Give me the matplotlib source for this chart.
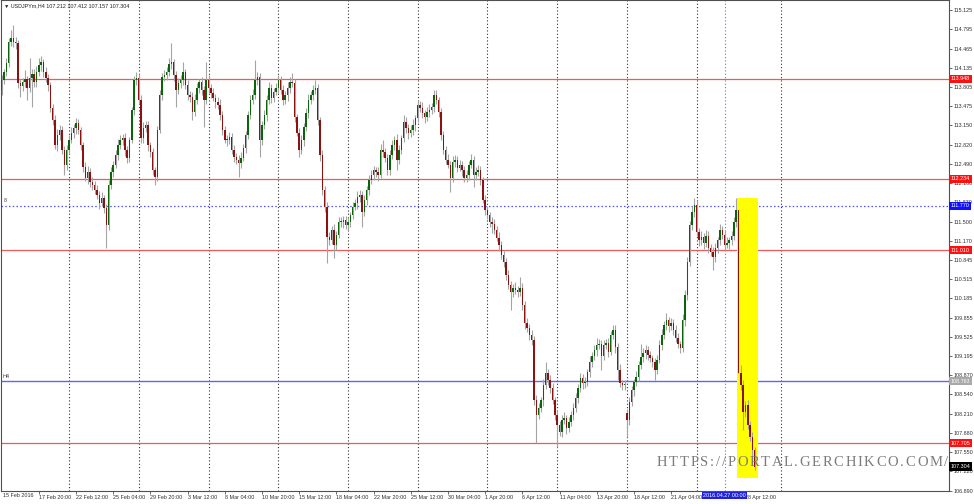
import numpy as np
import matplotlib.pyplot as plt
from matplotlib.patches import Rectangle
from matplotlib.transforms import blended_transform_factory

# USDJPYm H4, 15 Feb 2016 .. 29 Apr 2016, closes
close = [
    113.75, 113.93, 114.06, 114.22, 114.58, 114.65, 114.58, 114.56, 113.87, 113.82,
    113.89, 113.94, 113.79, 113.96, 114.03, 113.89, 114.06, 114.18, 114.23, 114.06,
    113.96, 113.84, 113.45, 113.24, 112.81, 112.98, 113.07, 112.73, 112.47, 112.73,
    112.90, 113.02, 113.10, 113.19, 113.07, 112.81, 112.44, 112.25, 112.35, 112.18,
    112.13, 112.04, 111.96, 111.82, 111.90, 111.73, 111.44, 112.13, 112.35, 112.47,
    112.64, 112.81, 112.90, 112.93, 112.73, 112.59, 112.90, 113.41, 113.93, 113.96,
    113.58, 112.93, 113.10, 113.15, 112.81, 112.69, 112.38, 112.26, 113.07, 113.67,
    113.98, 114.01, 114.06, 114.20, 114.23, 114.01, 113.75, 113.87, 113.93, 114.06,
    113.84, 113.67, 113.63, 113.38, 113.58, 113.79, 113.89, 113.75, 113.58, 113.93,
    113.79, 113.70, 113.62, 113.55, 113.50, 113.33, 113.07, 112.90, 112.90, 112.95,
    112.73, 112.61, 112.56, 112.50, 112.59, 112.76, 112.98, 113.33, 113.58, 113.67,
    113.93, 113.98, 112.90, 113.15, 113.33, 113.58, 113.79, 113.62, 113.72, 113.79,
    113.93, 113.75, 113.58, 113.67, 113.79, 113.89, 113.87, 113.29, 113.02, 112.73,
    112.90, 113.12, 113.36, 113.58, 113.67, 113.75, 113.79, 113.24, 112.64, 112.04,
    111.75, 111.24, 111.18, 111.36, 111.10, 111.27, 111.49, 111.49, 111.53, 111.44,
    111.49, 111.61, 111.75, 111.82, 111.92, 111.96, 111.66, 111.87, 112.04, 112.21,
    112.30, 112.38, 112.35, 112.30, 112.73, 112.69, 112.59, 112.38, 112.64, 112.81,
    112.90, 112.56, 112.73, 112.93, 113.21, 113.10, 113.02, 113.07, 113.15, 113.27,
    113.50, 113.45, 113.36, 113.29, 113.38, 113.41, 113.46, 113.67, 113.58, 113.38,
    112.98, 112.73, 112.56, 112.47, 112.25, 112.52, 112.56, 112.42, 112.47, 112.38,
    112.25, 112.30, 112.47, 112.56, 112.30, 112.35, 112.38, 112.21, 111.87, 111.70,
    111.61, 111.49, 111.46, 111.36, 111.22, 111.10, 110.93, 110.81, 110.58, 110.41,
    110.29, 110.36, 110.33, 110.29, 110.36, 110.07, 109.76, 109.68, 109.56, 109.47,
    108.44, 108.19, 108.31, 108.44, 108.70, 108.91, 108.79, 108.65, 108.44, 108.19,
    108.02, 107.90, 108.10, 108.13, 107.96, 108.07, 108.19, 108.31, 108.48, 108.65,
    108.82, 108.73, 108.75, 108.92, 109.09, 109.20, 109.30, 109.39, 109.40, 109.20,
    109.39, 109.42, 109.27, 109.56, 109.64, 109.35, 108.96, 108.73, 108.70, 108.70,
    108.10, 108.41, 108.61, 108.75, 108.84, 109.04, 109.18, 109.25, 109.30, 109.21,
    109.16, 109.09, 108.96, 109.13, 109.39, 109.56, 109.73, 109.81, 109.71, 109.76,
    109.64, 109.51, 109.40, 109.33, 109.81, 110.24, 110.81, 111.44, 111.66, 111.78,
    111.32, 111.18, 111.24, 111.13, 111.25, 111.05, 110.98, 110.89, 111.05, 111.18,
    111.36, 111.27, 111.10, 111.13, 111.18, 111.25, 111.49, 111.70, 108.91, 108.70,
    108.24, 108.36, 108.02, 107.81, 107.59, 107.30,
]

# upper / lower shadows in pips (0.01)
wick_up = [
    10, 8, 6, 8, 6, 14, 22, 9, 5, 8,
    7, 16, 6, 35, 9, 8, 10, 12, 10, 6,
    8, 7, 5, 6, 8, 10, 9, 6, 7, 9,
    8, 10, 7, 8, 6, 5, 6, 8, 10, 7,
    9, 6, 8, 7, 10, 6, 7, 8, 9, 7,
    8, 10, 9, 7, 8, 6, 5, 6, 7, 10,
    6, 9, 10, 7, 8, 6, 7, 5, 6, 8,
    7, 9, 8, 10, 33, 6, 7, 9, 8, 17,
    6, 8, 7, 9, 10, 8, 6, 9, 7, 30,
    8, 6, 9, 7, 8, 10, 6, 7, 9, 8,
    7, 9, 6, 8, 10, 7, 8, 6, 9, 10,
    34, 8, 6, 7, 9, 8, 10, 7, 6, 9,
    8, 7, 9, 6, 10, 8, 16, 7, 6, 8,
    9, 7, 8, 10, 6, 9, 14, 7, 6, 8,
    7, 9, 8, 6, 10, 7, 9, 8, 6, 7,
    8, 6, 9, 7, 10, 8, 6, 9, 7, 8,
    9, 7, 6, 8, 10, 17, 7, 6, 9, 8,
    7, 10, 8, 6, 12, 9, 7, 8, 10, 6,
    8, 7, 9, 6, 8, 10, 7, 8, 9, 6,
    7, 8, 6, 9, 7, 10, 8, 6, 9, 7,
    8, 9, 7, 10, 6, 8, 9, 7, 6, 8,
    7, 6, 9, 8, 7, 10, 6, 8, 7, 9,
    8, 7, 10, 6, 19, 8, 7, 9, 6, 8,
    7, 9, 8, 6, 10, 18, 7, 8, 9, 6,
    8, 7, 9, 10, 6, 8, 7, 9, 8, 6,
    9, 7, 8, 6, 10, 7, 9, 12, 8, 7,
    8, 6, 9, 7, 9, 8, 7, 10, 6, 8,
    7, 9, 8, 6, 10, 7, 22, 8, 9, 7,
    8, 6, 7, 9, 8, 10, 7, 12, 6, 8,
    7, 9, 8, 6, 10, 8, 9, 7, 10, 12,
    8, 7, 9, 6, 10, 8, 7, 9, 8, 6,
    9, 7, 8, 10, 6, 8, 9, 20, 0, 13,
    8, 7, 9, 6, 8, 5,
]
wick_dn = [
    12, 9, 7, 6, 8, 7, 9, 10, 8, 19,
    8, 9, 21, 7, 50, 9, 8, 7, 10, 9,
    7, 10, 8, 9, 6, 10, 8, 7, 17, 9,
    8, 6, 9, 10, 7, 8, 9, 6, 10, 8,
    9, 7, 8, 10, 6, 9, 39, 8, 7, 9,
    6, 8, 7, 9, 10, 8, 7, 6, 8, 9,
    7, 9, 8, 6, 10, 9, 8, 13, 7, 6,
    8, 7, 9, 6, 8, 10, 29, 7, 8, 9,
    7, 9, 8, 14, 7, 6, 9, 8, 46, 7,
    9, 8, 6, 10, 7, 9, 8, 6, 10, 7,
    8, 9, 7, 24, 8, 6, 9, 7, 8, 6,
    7, 9, 29, 8, 6, 10, 7, 9, 8, 6,
    9, 7, 8, 6, 10, 8, 7, 9, 6, 12,
    8, 10, 7, 9, 6, 8, 7, 9, 10, 8,
    9, 45, 8, 7, 22, 9, 6, 8, 10, 7,
    8, 9, 7, 6, 10, 8, 25, 7, 9, 8,
    7, 9, 8, 10, 6, 8, 7, 9, 8, 6,
    9, 18, 7, 8, 6, 9, 10, 7, 8, 9,
    6, 8, 9, 10, 7, 8, 6, 9, 7, 8,
    9, 7, 8, 6, 24, 8, 9, 7, 6, 10,
    8, 7, 9, 6, 21, 8, 7, 9, 6, 8,
    7, 9, 16, 8, 6, 10, 7, 9, 8, 7,
    30, 8, 7, 9, 6, 8, 10, 7, 9, 8,
    9, 48, 8, 7, 10, 6, 9, 8, 7, 9,
    38, 8, 9, 7, 10, 6, 8, 9, 7, 8,
    7, 9, 8, 6, 8, 9, 7, 10, 8, 24,
    8, 7, 9, 6, 8, 10, 17, 7, 9, 8,
    29, 8, 7, 9, 6, 8, 7, 9, 10, 8,
    7, 9, 17, 8, 6, 9, 7, 8, 10, 7,
    9, 8, 7, 8, 6, 10, 8, 7, 9, 8,
    7, 9, 8, 10, 6, 8, 7, 22, 9, 8,
    8, 7, 9, 6, 10, 8, 7, 9, 0, 8,
    31, 9, 8, 7, 10, 6,
]
first_open = 113.55
gap_bars = [270]          # weekend gap 18 Apr
gap_opens = [108.22]

red_levels = [113.948, 112.234, 111.010, 107.705]
blue_level = 111.770
h4_level = 108.763
last_price = 107.304

price_ticks = [115.125, 114.795, 114.465, 114.135, 113.805, 113.475, 113.150,
               112.820, 112.490, 112.160, 111.830, 111.500, 111.170, 110.845,
               110.515, 110.185, 109.855, 109.525, 109.195, 108.870, 108.540,
               108.210, 107.880, 107.550, 107.220, 106.890]

date_bars = [17, 33, 49, 65, 81, 97, 113, 129, 145, 161, 177, 193, 209, 225,
             241, 257, 273, 289, 321]
date_labels = ['17 Feb 20:00', '22 Feb 12:00', '25 Feb 04:00', '29 Feb 20:00',
               '3 Mar 12:00', '8 Mar 04:00', '10 Mar 20:00', '15 Mar 12:00',
               '18 Mar 04:00', '22 Mar 20:00', '25 Mar 12:00', '30 Mar 04:00',
               '1 Apr 20:00', '6 Apr 12:00', '11 Apr 04:00', '13 Apr 20:00',
               '18 Apr 12:00', '21 Apr 04:00', '28 Apr 12:00']
grid_bars = [30, 60, 90, 120, 150, 180, 210, 240, 270, 300, 336.3]
cursor_bar = 312
cursor_label = '2016.04.27 00:00'

plt.rcParams['font.family'] = ['Liberation Sans', 'DejaVu Sans']

c = np.array(close)
o = np.r_[first_open, c[:-1]]
for b, v in zip(gap_bars, gap_opens):
    o[b] = v
hi = np.maximum(o, c) + np.array(wick_up) / 100
lo = np.minimum(o, c) - np.array(wick_dn) / 100
x = np.arange(len(c))
up = c >= o

W, H = 974, 504
fig = plt.figure(figsize=(W / 100, H / 100), dpi=100)
ax = fig.add_axes([1 / W, 13 / H, 948 / W, 491 / H])
px_per_bar = 2.3245
ax.set_xlim(0.73, 0.73 + 948 / px_per_bar)
ax.set_ylim(106.884, 115.296)

# highlight of the BoJ drop
ax.add_patch(Rectangle((317.4, 107.11), 9.0, 111.90 - 107.11,
                       color='#ffff00', lw=0, zorder=1))

for gb in grid_bars:
    ax.axvline(gb, color='#303030', lw=0.8, ls=(0, (1, 2)), zorder=0.5)
ax.axvline(cursor_bar, color='#6a6aff', lw=0.8, ls=(0, (1, 2)), zorder=0.6)

for lv in red_levels:
    ax.axhline(lv, color='#ec5a5a', lw=0.9, zorder=0.7)
ax.axhline(blue_level, color='#5050ff', lw=0.9, ls=(0, (1.2, 1.8)), zorder=0.7)
ax.axhline(h4_level, color='#6262ff', lw=1.0, zorder=0.7)

ax.vlines(x, lo, hi, color='#a4a4a4', lw=0.8, zorder=2)
ax.bar(x, np.maximum(np.abs(c - o), 0.012), bottom=np.minimum(o, c), width=0.62,
       color=np.where(up, '#0b640b', '#8c1212'), lw=0, zorder=3)

for s in ax.spines.values():
    s.set_color('#505050')
    s.set_linewidth(0.8)

ax.yaxis.tick_right()
ax.set_yticks(price_ticks)
ax.set_yticklabels(['%.3f' % t for t in price_ticks])
ax.tick_params(axis='y', length=2, width=0.5, pad=1.5, labelsize=3.9, colors='#303030')
ax.set_xticks(date_bars)
ax.set_xticklabels(date_labels)
ax.tick_params(axis='x', length=2, width=0.5, pad=1.2, labelsize=3.9, colors='#303030')
for lab in ax.get_xticklabels():
    lab.set_ha('left')

ax.text(0.002, -0.004, '15 Feb 2016', transform=ax.transAxes, fontsize=3.9,
        color='#303030', ha='left', va='top')

ty = blended_transform_factory(ax.transAxes, ax.transData)
for lv in red_levels:
    ax.text(1.002, lv, '%.3f' % lv, transform=ty, fontsize=3.9, color='white',
            va='center', ha='left', clip_on=False, zorder=6,
            bbox=dict(boxstyle='square,pad=0.3', fc='#ff1010', ec='none'))
ax.text(1.002, blue_level, '%.3f' % blue_level, transform=ty, fontsize=3.9,
        color='white', va='center', ha='left', clip_on=False, zorder=6,
        bbox=dict(boxstyle='square,pad=0.3', fc='#1010ff', ec='none'))
ax.text(1.002, h4_level, '%.3f' % h4_level, transform=ty, fontsize=3.9,
        color='white', va='center', ha='left', clip_on=False, zorder=6,
        bbox=dict(boxstyle='square,pad=0.3', fc='#a8a8a8', ec='none'))
ax.text(1.002, last_price, '%.3f' % last_price, transform=ty, fontsize=3.9,
        color='white', va='center', ha='left', clip_on=False, zorder=6,
        bbox=dict(boxstyle='square,pad=0.3', fc='#000000', ec='none'))

tx = blended_transform_factory(ax.transData, ax.transAxes)
ax.text(cursor_bar - 9.3, -0.004, cursor_label, transform=tx, fontsize=3.9,
        color='white', ha='left', va='top', clip_on=False, zorder=6,
        bbox=dict(boxstyle='square,pad=0.2', fc='#2020e0', ec='none'))

ax.text(0.003, blue_level + 0.04, '8', transform=ty, fontsize=3.9, color='#404040',
        va='bottom', ha='left')
ax.text(0.002, h4_level + 0.04, 'H4', transform=ty, fontsize=3.9, color='#404040',
        va='bottom', ha='left')

fig.text(4 / W, 1 - 6 / H, '\u25bc USDJPYm,H4 107.212 107.412 107.157 107.304',
         fontsize=3.9, color='#202020', va='center', ha='left')

# watermark: proportional letters with wide, even tracking
wm = 'HTTPS://PORTAL.GERCHIKCO.COM/'
wm_left, wm_right = 657, 948
renderer = fig.canvas.get_renderer()
parts = []
for ch in wm:
    t = fig.text(0, 1 - 463 / H, ch, fontsize=10.5,
                 family=['Liberation Serif', 'DejaVu Serif'], color='#7c7c7c',
                 ha='left', va='center', zorder=10)
    parts.append((t, t.get_window_extent(renderer).width))
track = (wm_right - wm_left - sum(w for _, w in parts)) / (len(parts) - 1)
pos = wm_left
for t, w in parts:
    t.set_x(pos / W)
    pos += w + track

fig.savefig('out.png', dpi=100)
